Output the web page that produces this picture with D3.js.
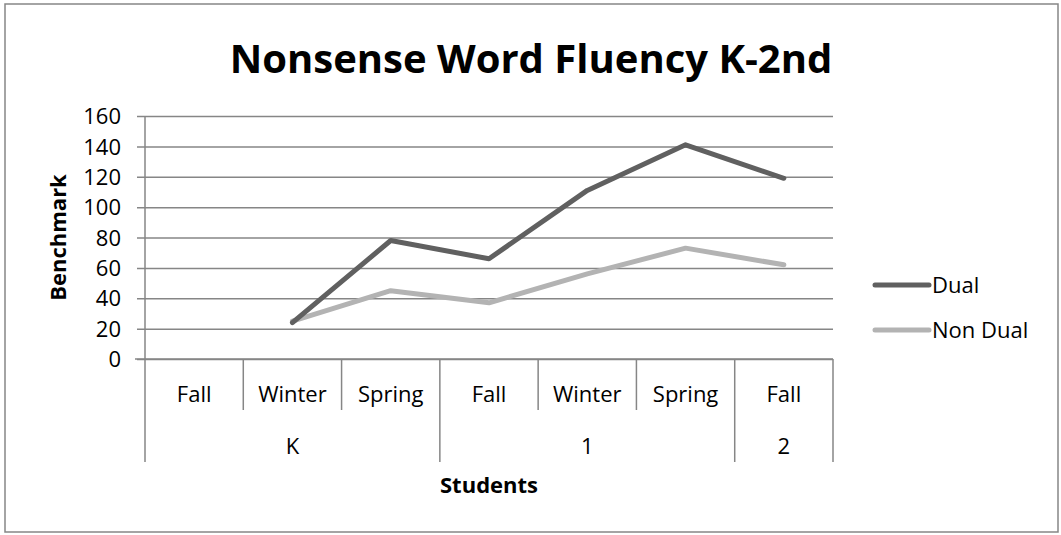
<!DOCTYPE html>
<html>
<head>
<meta charset="utf-8">
<script src="https://cdn.jsdelivr.net/npm/d3@7"></script>
<style>
    body { margin: 0; background: #fff; }
    svg text { font-family: "Open Sans", "Noto Sans", sans-serif; fill: #000; }
</style>
</head>
<body>
<div id="chart"></div>
<script>
//Datos
const seasons = ['Fall', 'Winter', 'Spring', 'Fall', 'Winter', 'Spring', 'Fall'];
const grades = [
    { name: 'K', span: 3 },
    { name: '1', span: 3 },
    { name: '2', span: 1 }
];
const dualValues = [null, 24, 78, 66, 111, 141, 119];
const nonDualValues = [null, 25, 45, 37, 56, 73, 62];
const yTicks = [0, 20, 40, 60, 80, 100, 120, 140, 160];

const COLOR_DUAL = '#606060';
const COLOR_NON_DUAL = '#b3b3b3';
const COLOR_GRID = '#868686';

let width = 1061, height = 535;
let margin = { top: 116, left: 145, right: 228, bottom: 176 };
let plotW = width - margin.left - margin.right,
    plotH = height - margin.top - margin.bottom;

let svg = d3.select('#chart')
    .append('svg')
    .attr('width', width)
    .attr('height', height);

//Marco exterior
svg.append('rect')
    .attr('x', 5).attr('y', 4)
    .attr('width', 1053).attr('height', 528)
    .attr('fill', 'none')
    .attr('stroke', COLOR_GRID)
    .attr('stroke-width', 1.5);

//Título
svg.append('text')
    .attr('x', 531).attr('y', 73)
    .attr('text-anchor', 'middle')
    .style('font-weight', 'bold')
    .style('font-size', '40px')
    .text('Nonsense Word Fluency K-2nd');

let g = svg.append('g')
    .attr('transform', 'translate(' + margin.left + ',' + margin.top + ')');

let y = d3.scaleLinear()
    .domain([0, 160])
    .range([plotH, 0]);

let x = d3.scaleBand()
    .domain(d3.range(seasons.length))
    .range([0, plotW]);

//Eje Y con rejilla
let yAxis = function(sel) {
    sel.call(d3.axisLeft(y).tickValues(yTicks).tickSize(8).tickPadding(16).tickSizeOuter(0));
    sel.call(function(s) { s.select('.domain').remove(); });
    sel.selectAll('.tick line')
        .attr('x1', -8).attr('x2', plotW)
        .attr('stroke', COLOR_GRID)
        .attr('stroke-width', 1.5);
    sel.selectAll('.tick text')
        .style('font-size', '22px')
        .attr('dy', '0.35em');
};
g.append('g').call(yAxis);

//Línea del eje Y, baja hasta la zona de categorías
g.append('line')
    .attr('x1', 0).attr('x2', 0)
    .attr('y1', 0).attr('y2', plotH + 103)
    .attr('stroke', COLOR_GRID).attr('stroke-width', 1.5);

//Eje X con categorías agrupadas
let xg = g.append('g').attr('transform', 'translate(0,' + plotH + ')');
xg.append('line')
    .attr('x1', -10).attr('x2', plotW)
    .attr('stroke', COLOR_GRID).attr('stroke-width', 1.5);

xg.selectAll('.season')
    .data(seasons)
    .enter()
    .append('text')
    .attr('class', 'season')
    .attr('x', function(d, i) { return x(i) + x.bandwidth() / 2; })
    .attr('y', 43)
    .attr('text-anchor', 'middle')
    .style('font-size', '22px')
    .text(function(d) { return d; });

//Separadores
let groupEnds = [0];
grades.forEach(function(gr) { groupEnds.push(groupEnds[groupEnds.length - 1] + gr.span); });

d3.range(1, seasons.length + 1).forEach(function(i) {
    let full = groupEnds.indexOf(i) >= 0;
    xg.append('line')
        .attr('x1', x.step() * i).attr('x2', x.step() * i)
        .attr('y1', 0).attr('y2', full ? 103 : 51)
        .attr('stroke', COLOR_GRID).attr('stroke-width', 1.5);
});

xg.selectAll('.grade')
    .data(grades)
    .enter()
    .append('text')
    .attr('class', 'grade')
    .attr('x', function(d, i) { return x.step() * (groupEnds[i] + d.span / 2); })
    .attr('y', 95)
    .attr('text-anchor', 'middle')
    .style('font-size', '22px')
    .text(function(d) { return d.name; });

//Títulos de ejes
svg.append('text')
    .attr('x', margin.left + plotW / 2)
    .attr('y', 493)
    .attr('text-anchor', 'middle')
    .style('font-weight', 'bold')
    .style('font-size', '22px')
    .text('Students');

svg.append('text')
    .attr('transform', 'translate(66,' + (margin.top + plotH / 2) + ') rotate(-90)')
    .attr('text-anchor', 'middle')
    .style('font-weight', 'bold')
    .style('font-size', '22px')
    .text('Benchmark');

//Líneas
let line = d3.line()
    .defined(function(d) { return d != null; })
    .x(function(d, i) { return x(i) + x.bandwidth() / 2; })
    .y(function(d) { return y(d); });

let series = [
    { name: 'Non Dual', values: nonDualValues, color: COLOR_NON_DUAL },
    { name: 'Dual', values: dualValues, color: COLOR_DUAL }
];

g.selectAll('.serie')
    .data(series)
    .enter()
    .append('path')
    .attr('class', 'serie')
    .attr('d', function(d) { return line(d.values); })
    .attr('fill', 'none')
    .attr('stroke', function(d) { return d.color; })
    .attr('stroke-width', 5)
    .attr('stroke-linecap', 'round')
    .attr('stroke-linejoin', 'round');

//Leyenda
let legend = svg.append('g').attr('transform', 'translate(875,285)');
let legendItems = [series[1], series[0]];
legendItems.forEach(function(d, i) {
    legend.append('line')
        .attr('x1', 0).attr('x2', 54)
        .attr('y1', i * 45).attr('y2', i * 45)
        .attr('stroke', d.color)
        .attr('stroke-width', 5)
        .attr('stroke-linecap', 'round');
    legend.append('text')
        .attr('x', 57).attr('y', i * 45)
        .attr('dy', '0.35em')
        .style('font-size', '22px')
        .text(d.name);
});
</script>
</body>
</html>
